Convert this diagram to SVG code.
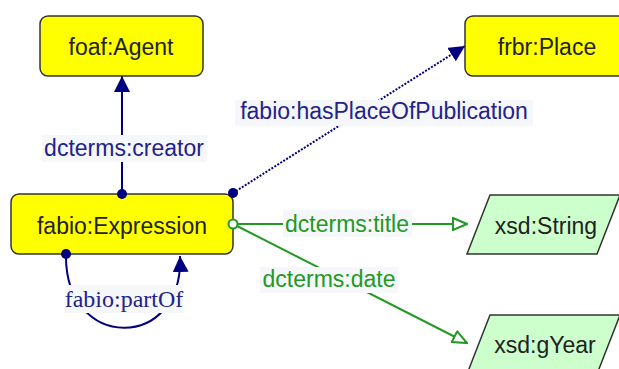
<svg xmlns="http://www.w3.org/2000/svg" width="619" height="369" viewBox="0 0 619 369">
  <style>
    .node rect { fill: #ffff00; stroke: #333; stroke-width: 1.5; }
    .lit polygon { fill: #ccffcc; stroke: #333; stroke-width: 1.5; }
    .nt { font-family: "Liberation Sans", Arial, sans-serif; font-size: 23px; fill: #222; text-anchor: middle; }
    .lbg { fill: #f5f7fa; }
    .obj { stroke: #000080; stroke-width: 2; fill: none; }
    .dat { stroke: #229922; stroke-width: 2; fill: none; }
    .lo { font-family: "Liberation Sans", Arial, sans-serif; font-size: 23px; fill: #22228a; text-anchor: middle; }
    .ld { font-family: "Liberation Sans", Arial, sans-serif; font-size: 23px; fill: #229922; text-anchor: middle; }
    .ls { font-family: "Liberation Serif", "Times New Roman", serif; font-size: 24px; fill: #22228a; text-anchor: middle; }
  </style>
  <defs>
    <marker id="af" viewBox="0 0 16 16" refX="16" refY="8" markerWidth="16" markerHeight="16" markerUnits="userSpaceOnUse" orient="auto">
      <path d="M0,0 L16,8 L0,16 z" fill="#000080"/>
    </marker>
    <marker id="ao" viewBox="0 0 16 14" refX="15" refY="7" markerWidth="16" markerHeight="14" markerUnits="userSpaceOnUse" orient="auto">
      <path d="M1,1 L15,7 L1,13 z" fill="#fff" stroke="#229922" stroke-width="2"/>
    </marker>
  </defs>

  <g id="connectors">
    <path class="obj" d="M122,194 L122,76" marker-end="url(#af)"/>
    <path class="obj" d="M233,193 L465,46" stroke-dasharray="2,1.5" stroke-width="1.6" marker-end="url(#af)"/>
    <path class="obj" d="M66,254 C64,352 184,352 180,256" marker-end="url(#af)"/>
    <path class="dat" d="M233,224 L467,224" marker-end="url(#ao)"/>
    <path class="dat" d="M233,224 L467,343" marker-end="url(#ao)"/>
  </g>

  <g id="node-agent" class="node">
    <rect x="40" y="16" width="163" height="60" rx="8"/>
    <text class="nt" x="121" y="55">foaf:Agent</text>
  </g>
  <g id="node-place" class="node">
    <rect x="465" y="16" width="164" height="60" rx="8"/>
    <text class="nt" x="547" y="55">frbr:Place</text>
  </g>
  <g id="node-expression" class="node">
    <rect x="11" y="194" width="222" height="60" rx="8"/>
    <text class="nt" x="122" y="234">fabio:Expression</text>
  </g>
  <g id="node-string" class="lit">
    <polygon points="490,195 620,195 597,254 467,254"/>
    <text class="nt" x="546" y="234">xsd:String</text>
  </g>
  <g id="node-gyear" class="lit">
    <polygon points="490,315 620,315 597,374 467,374"/>
    <text class="nt" x="545" y="353">xsd:gYear</text>
  </g>

  <g id="edge-dots">
    <circle cx="122" cy="194" r="5" fill="#000080"/>
    <circle cx="233" cy="193" r="5" fill="#000080"/>
    <circle cx="66" cy="254" r="5" fill="#000080"/>
    <circle cx="233" cy="224" r="4.5" fill="#fff" stroke="#229922" stroke-width="2"/>
  </g>

  <g id="labels">
    <rect class="lbg" x="42" y="135" width="165" height="27"/>
    <text class="lo" x="124" y="156">dcterms:creator</text>
    <rect class="lbg" x="235" y="100" width="298" height="26"/>
    <text class="lo" x="384" y="119">fabio:hasPlaceOfPublication</text>
    <rect class="lbg" x="283" y="210" width="129" height="27"/>
    <text class="ld" x="347" y="232">dcterms:title</text>
    <rect class="lbg" x="260" y="267" width="138" height="26"/>
    <text class="ld" x="329" y="287">dcterms:date</text>
    <rect class="lbg" x="65" y="285" width="118" height="28"/>
    <text class="ls" x="124" y="307">fabio:partOf</text>
  </g>
</svg>
